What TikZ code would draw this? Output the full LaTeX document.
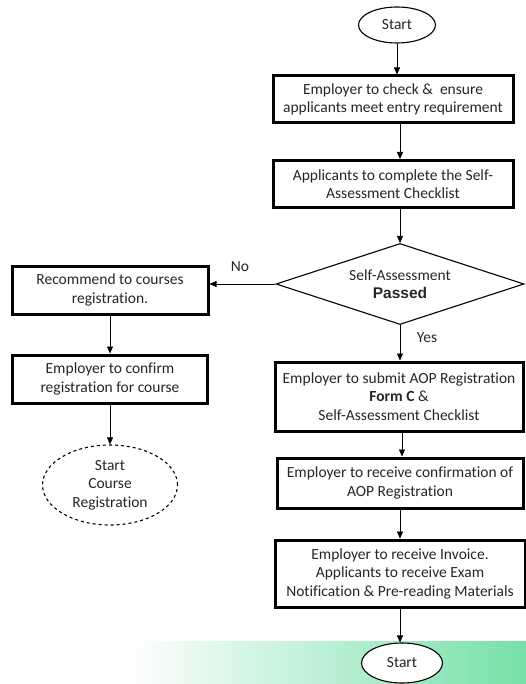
\documentclass[tikz,border=0pt]{standalone}
\usepackage{fontspec}
\setmainfont{Carlito}[Ligatures=NoCommon]
\newfontfamily\arialbold{Liberation Sans}
\usetikzlibrary{shapes.geometric,arrows.meta}
\definecolor{bandgreen}{RGB}{118,224,168}
\begin{document}
\begin{tikzpicture}[x=1pt,y=-1pt,
  every node/.style={font=\fontsize{15.5}{18.5}\selectfont, text=black!85},
  box/.style={draw, line width=3pt, rectangle, align=center, inner sep=0pt, fill=white},
  term/.style={draw, line width=1.1pt, ellipse, align=center, inner sep=0pt, fill=white},
  decision/.style={draw, line width=1.1pt, diamond, align=center, inner sep=0pt, aspect=3.06},
  arr/.style={line width=0.7pt, -{Triangle[length=7pt,width=6pt]}},
  lbl/.style={inner sep=0pt}
]
\useasboundingbox (0,0) rectangle (526,684);
\shade[left color=white, right color=bandgreen] (127,641) rectangle (526,684);

\node[term, minimum width=77pt, minimum height=36pt] (start1) at (397,25) {Start};
\node[box, minimum width=240pt, minimum height=47pt] (b1) at (393,99.5) {Employer to check \&\ \ ensure\\applicants meet entry requirement};
\node[box, minimum width=240pt, minimum height=47pt] (b2) at (393,184) {Applicants to complete the Self-\\Assessment Checklist};
\node[decision, minimum width=248pt, minimum height=81pt] (dia) at (400,284) {Self-Assessment\\{\arialbold\bfseries Passed}};
\node[box, minimum width=196pt, minimum height=48pt] (l1) at (110,290) {Recommend to courses\\registration.};
\node[box, minimum width=195pt, minimum height=48pt] (l2) at (110,379) {Employer to confirm\\registration for course};
\node[term, dashed, minimum width=135pt, minimum height=80pt] (cr) at (110,485) {Start\\Course\\Registration};
\node[box, minimum width=248pt, minimum height=69pt] (r3) at (399,396.5) {Employer to submit AOP Registration\\\textbf{Form C} \&\\Self-Assessment Checklist};
\node[box, minimum width=246pt, minimum height=50pt] (r4) at (400,483) {Employer to receive confirmation of\\AOP Registration};
\node[box, minimum width=250pt, minimum height=67pt] (r5) at (400,573.5) {Employer to receive Invoice.\\Applicants to receive Exam\\Notification \& Pre-reading Materials};
\node[term, minimum width=81pt, minimum height=40pt] (start2) at (402,663) {Start};

\node[lbl] (no) at (240,267) {No};
\node[lbl] (yes) at (427,338) {Yes};

\draw[arr] (start1.south) -- (start1.south |- b1.north);
\draw[arr] ([xshift=7pt]b1.south) -- ([xshift=7pt]b2.north);
\draw[arr] ([xshift=7pt]b2.south) -- (dia.north);
\draw[arr] (dia.west) -- (dia.west -| l1.east);
\draw[arr] (dia.south) -- (dia.south |- r3.north);
\draw[arr] (l1.south) -- (l2.north);
\draw[arr] (l2.south) -- (cr.north);
\draw[arr] ([xshift=3pt]r3.south) -- ([xshift=2pt]r4.north);
\draw[arr] (r4.south) -- (r5.north);
\draw[arr] (r5.south) -- (r5.south |- start2.north);
\end{tikzpicture}
\end{document}
